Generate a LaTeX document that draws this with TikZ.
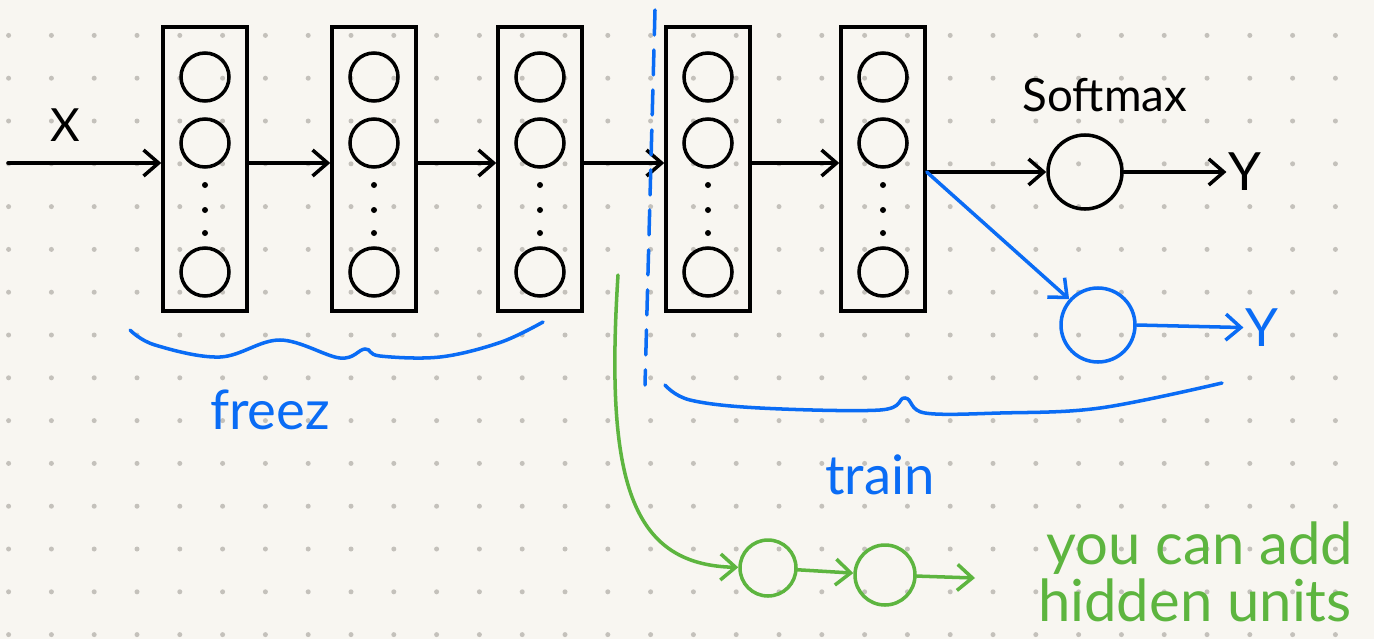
\documentclass[tikz,border=0pt]{standalone}
\usepackage{fontspec}
\setmainfont{Lato}
\usepackage{tikz}
\usetikzlibrary{arrows.meta}

\definecolor{paper}{HTML}{F8F6F1}
\definecolor{griddot}{HTML}{C4C1BB}
\definecolor{penblue}{HTML}{0A6CF5}
\definecolor{pengreen}{HTML}{5DB53F}

\tikzset{
  >={Straight Barb[length=0.3cm,width=0.52cm]},
  pen/.style={line width=2pt, line cap=round},
  layer/.style={draw, rectangle, pen, minimum width=1.68cm, minimum height=5.68cm, inner sep=0pt},
  unit/.style={draw, circle, pen, minimum size=0.96cm, inner sep=0pt},
  bigunit/.style={draw, circle, pen, minimum size=1.48cm, inner sep=0pt},
  hand/.style={inner sep=1pt, font=\fontsize{31}{36}\selectfont},
}

\begin{document}
\begin{tikzpicture}
  % paper and dot grid
  \fill[paper] (0,0) rectangle (27.48,-12.78);
  \useasboundingbox (0,0) rectangle (27.48,-12.78);
  \foreach \i in {0,...,31}
    \foreach \j in {0,...,14}
      \fill[griddot] (0.172+0.856*\i,-0.708-0.856*\j) circle (0.05);

  % layers
  \foreach \b/\x in {1/4.10, 2/7.48, 3/10.80, 4/14.16, 5/17.66} {
    \node[layer] (box\b) at (\x,-3.38) {};
    \node[unit] (u\b a) at (\x,-1.54) {};
    \node[unit] (u\b b) at (\x,-2.86) {};
    \node[unit] (u\b c) at (\x,-5.44) {};
    \fill (\x,-3.70) circle (0.06);
    \fill (\x,-4.20) circle (0.06);
    \fill (\x,-4.66) circle (0.06);
  }

  \node[hand, font=\fontsize{26}{30}\selectfont] (x) at (1.30,-2.50) {X};
  \coordinate (in) at (0.16,-3.26);
  \draw[pen, ->] (in) -- (in -| box1.west);
  \draw[pen, ->] ([yshift=0.12cm]box1.east) -- ([yshift=0.12cm]box2.west);
  \draw[pen, ->] ([yshift=0.12cm]box2.east) -- ([yshift=0.12cm]box3.west);
  \draw[pen, ->] ([yshift=0.12cm]box3.east) -- ([yshift=0.12cm]box4.west);
  \draw[pen, ->] ([yshift=0.12cm]box4.east) -- ([yshift=0.12cm]box5.west);

  % softmax head
  \node[bigunit] (sm) at (21.70,-3.44) {};
  \node[hand, font=\fontsize{26}{30}\selectfont] (smlabel) at (22.10,-1.90) {Softmax};
  \node[hand, font=\fontsize{30}{34}\selectfont] (y1) at (24.90,-3.44) {Y};
  \coordinate (split) at (box5.east |- sm);
  \draw[pen, ->] (split) -- (sm);
  \draw[pen, ->] (sm) -- (y1);

  % new head
  \node[bigunit, penblue] (bc) at (21.96,-6.50) {};
  \node[hand, penblue, font=\fontsize{30}{34}\selectfont] (y2) at (25.24,-6.56) {Y};
  \draw[pen, penblue, ->] (split) -- (bc);
  \draw[pen, penblue, ->] (bc.east) -- (y2);

  % cut line
  \coordinate (cuttop) at (13.10,-0.20);
  \coordinate (cutbot) at (12.90,-7.70);
  \draw[pen, penblue, dash pattern=on 0.5cm off 0.3cm] (cuttop) -- (cutbot);

  % braces
  \draw[pen, penblue] plot[smooth, tension=0.6] coordinates {(2.60,-6.60) (3.10,-6.90) (4.40,-7.14) (5.60,-6.80) (6.80,-7.16) (7.30,-6.98) (7.60,-7.12) (8.80,-7.14) (10.00,-6.85) (10.86,-6.44)};
  \node[hand, penblue] (freeze) at (5.40,-8.20) {freez};
  \draw[pen, penblue] plot[smooth, tension=0.6] coordinates {(13.30,-7.70) (13.80,-8.00) (15.20,-8.16) (17.60,-8.20) (18.10,-7.96) (18.50,-8.26) (20.00,-8.26) (22.00,-8.16) (24.44,-7.66)};
  \node[hand, penblue] (train) at (17.60,-9.50) {train};

  % extra hidden units
  \coordinate (gstart) at (12.36,-5.50);
  \node[draw, circle, pen, pengreen, minimum size=1.12cm] (g1) at (15.36,-11.36) {};
  \node[draw, circle, pen, pengreen, minimum size=1.2cm] (g2) at (17.70,-11.50) {};
  \coordinate (gend) at (19.50,-11.56);
  \draw[pen, pengreen, ->] (gstart) .. controls (12.10,-9.60) and (12.60,-11.30) .. (g1);
  \draw[pen, pengreen, ->] (g1) -- (g2);
  \draw[pen, pengreen, ->] (g2) -- (gend);
  \node[hand, pengreen, font=\fontsize{33}{38}\selectfont] (add1) at (24.00,-10.96) {you can add};
  \node[hand, pengreen, font=\fontsize{33}{38}\selectfont] (add2) at (23.90,-12.00) {hidden units};
\end{tikzpicture}
\end{document}
